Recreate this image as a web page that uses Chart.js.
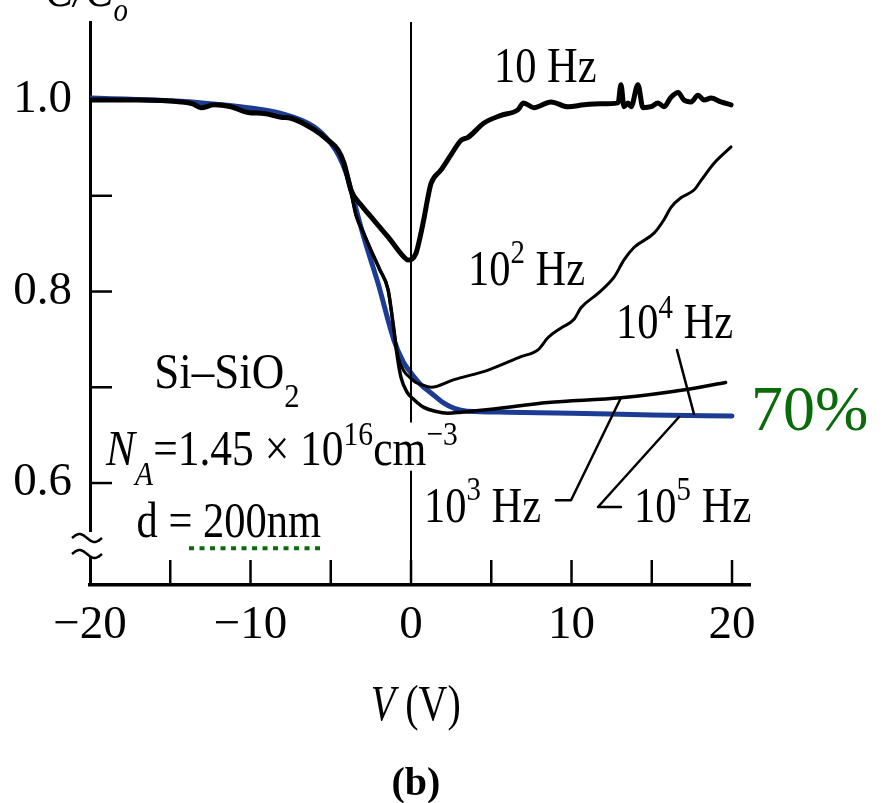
<!DOCTYPE html>
<html>
<head>
<meta charset="utf-8">
<script src="https://cdn.jsdelivr.net/npm/chart.js@4.4.1/dist/chart.umd.min.js"></script>
<style>
  html, body { margin: 0; padding: 0; background: #fff; }
</style>
</head>
<body>
<canvas id="cv" width="883" height="803"></canvas>
<script>
// C/Co versus gate voltage, Si-SiO2, measured at several frequencies
var xTicks = [-20, -15, -10, -5, 0, 5, 10, 15, 20];
var yTicks = [0.6, 0.7, 0.8, 0.9, 1.0];

// 10 Hz (thick black)
var v10 = [-20, -17, -14.33, -13.6, -13.08, -12.27, -11.21, -10.16, -9.16, -8.1, -7.48, -6.04, -5.17, -4.55, -4.17,
  -3.74, -3.1, -2.49, -1.43, -0.44, -0.19, 0.31, 0.62, 0.85, 1.06, 1.25, 1.87, 2.5, 3.12, 3.55, 4.55, 5.61, 6.67,
  7.0, 7.66, 8.72, 9.78, 10.78, 11.84, 12.9, 13.08, 13.27, 13.52, 13.71, 14.14, 14.45, 14.95, 15.39, 15.76, 16.2,
  16.64, 17.0, 17.45, 17.88, 18.26, 18.69, 19.31, 19.94];
var c10 = [1.000, 1.000, 0.998, 0.996, 0.992, 0.995, 0.993, 0.987, 0.986, 0.982, 0.981, 0.969, 0.958, 0.948, 0.934,
  0.906, 0.890, 0.878, 0.857, 0.836, 0.833, 0.840, 0.861, 0.880, 0.899, 0.913, 0.927, 0.943, 0.958, 0.961, 0.976, 0.984, 0.990,
  0.997, 0.992, 0.998, 0.993, 0.995, 0.996, 0.997, 1.016, 0.993, 0.997, 0.993, 1.016, 0.992, 0.993, 0.997, 0.993, 1.003,
  1.008, 1.000, 0.998, 1.005, 1.000, 1.002, 0.998, 0.995];

// 10^2 Hz
var v100 = [-4.2, -3.74, -3.43, -2.95, -2.49, -1.95, -1.43, -1.12, -0.81, -0.4, -0.12, 0.3, 0.62, 1.25, 2.68, 4.8,
  6.85, 7.91, 8.54, 9.35, 10.16, 10.59, 11.65, 12.65, 13.27, 13.89, 15.14, 15.76, 16.2, 16.82, 17.63, 18.07, 18.88, 19.94];
var c100 = [0.932, 0.904, 0.880, 0.861, 0.843, 0.823, 0.802, 0.767, 0.732, 0.716, 0.711, 0.705, 0.703, 0.700, 0.708, 0.718,
  0.732, 0.739, 0.752, 0.762, 0.771, 0.783, 0.798, 0.815, 0.833, 0.846, 0.861, 0.875, 0.888, 0.898, 0.906, 0.916, 0.934, 0.951];

// 10^3 Hz
var v1k = [-4.2, -3.74, -3.43, -2.95, -2.49, -1.95, -1.43, -1.12, -0.87, -0.62, -0.25, 0.19, 0.8, 1.5, 2.3, 3.12,
  5, 8.54, 13.08, 17.26, 19.6];
var c1k = [0.932, 0.904, 0.880, 0.861, 0.843, 0.823, 0.802, 0.767, 0.734, 0.710, 0.695, 0.687, 0.679, 0.675, 0.673, 0.674,
  0.677, 0.684, 0.689, 0.698, 0.705];

// 10^4 and 10^5 Hz (blue)
var vHigh = [-20, -16, -13, -10.16, -8.1, -6.04, -5, -4.5, -4, -3.74, -2.93, -2.06, -1.06, -0.5, 0, 0.6, 1.25, 2, 2.7,
  3.5, 6, 10, 15, 20];
var cHigh = [1.002, 1.000, 0.997, 0.992, 0.986, 0.972, 0.955, 0.942, 0.922, 0.906, 0.856, 0.809, 0.749, 0.727, 0.715, 0.703,
  0.694, 0.684, 0.678, 0.675, 0.674, 0.673, 0.671, 0.670];

// V = 0 line, broken behind the N_A label
var vZero = [0, 0, 0, 0, 0];
var cZero = [1.0815, 0.664, null, 0.612, 0.4935];

// label leaders
var lead1kV = [9.03, 9.97, 13.08];
var lead1kC = [0.582, 0.582, 0.689];
var lead100kV = [13.08, 11.65, 16.70];
var lead100kC = [0.575, 0.575, 0.669];
var lead10kV = [16.57, 17.63];
var lead10kC = [0.739, 0.672];

// green dotted underline below "200nm"
var dotV = [-13.83, -5.42];
var dotC = [0.532, 0.532];

function pts(xs, ys) {
  return xs.map(function (x, i) { return { x: x, y: ys[i] }; });
}

var serif = '"Liberation Serif", "Times New Roman", serif';

var notes = [
  { x: 5.17, y: 1.019, parts: [{ t: '10 Hz' }] },
  { x: 3.55, y: 0.807, parts: [{ t: '10' }, { t: '2', s: 34, dy: -22 }, { t: ' Hz' }] },
  { x: 12.77, y: 0.751, parts: [{ t: '10' }, { t: '4', s: 34, dy: -20 }, { t: ' Hz' }] },
  { x: 0.81, y: 0.559, parts: [{ t: '10' }, { t: '3', s: 34, dy: -22 }, { t: ' Hz' }] },
  { x: 13.9, y: 0.559, parts: [{ t: '10' }, { t: '5', s: 34, dy: -22 }, { t: ' Hz' }] },
  { x: -16.0, y: 0.699, sx: 0.9, parts: [{ t: 'Si\u2013SiO' }, { t: '2', s: 34, dy: 19 }] },
  { x: -19.0, y: 0.619, sx: 0.87, parts: [{ t: 'N', i: true }, { t: 'A', s: 34, dy: 20, i: true },
    { t: '=1.45 \u00d7 10' }, { t: '16', s: 34, dy: -20 }, { t: 'cm' }, { t: '\u22123', s: 34, dy: -20 }] },
  { x: -17.1, y: 0.544, parts: [{ t: 'd = 200nm' }] },
  { x: 21.18, y: 0.655, sx: 1, parts: [{ t: '70%', s: 64, c: '#0b6b0b' }] },
  { x: -22.8, y: 1.098, parts: [{ t: 'C/C', i: true }, { t: 'o', s: 34, dy: 15, i: true }] }
];

function drawRich(ctx, x, y, parts, sx) {
  ctx.save();
  ctx.translate(x, y);
  ctx.scale(sx, 1);
  ctx.textBaseline = 'alphabetic';
  ctx.textAlign = 'left';
  var cx = 0;
  parts.forEach(function (p) {
    ctx.font = (p.i ? 'italic ' : '') + (p.b ? 'bold ' : '') + (p.s || 50) + 'px ' + serif;
    ctx.fillStyle = p.c || '#000';
    ctx.fillText(p.t, cx, p.dy || 0);
    cx += ctx.measureText(p.t).width;
  });
  ctx.restore();
}

var decor = {
  id: 'decor',
  afterDraw: function (chart) {
    var ctx = chart.ctx, xs = chart.scales.x, ys = chart.scales.y, a = chart.chartArea;
    ctx.save();
    // inward tick marks
    ctx.strokeStyle = '#000';
    ctx.lineWidth = 2.5;
    xTicks.forEach(function (v) {
      if (v === xs.min) return;
      var px = xs.getPixelForValue(v);
      ctx.beginPath(); ctx.moveTo(px, a.bottom); ctx.lineTo(px, a.bottom - 25); ctx.stroke();
    });
    yTicks.forEach(function (v) {
      var py = ys.getPixelForValue(v);
      ctx.beginPath(); ctx.moveTo(a.left, py); ctx.lineTo(a.left + 22, py); ctx.stroke();
    });
    // axis break
    ctx.fillStyle = '#fff';
    ctx.fillRect(a.left - 4, a.bottom - 53, 8, 25);
    ctx.lineWidth = 2.5;
    [a.bottom - 47, a.bottom - 31].forEach(function (cy) {
      ctx.beginPath();
      for (var k = 0; k <= 30; k++) {
        var px = a.left - 18 + k;
        var py = cy - 4 * Math.sin((k / 30) * 2 * Math.PI);
        if (k === 0) ctx.moveTo(px, py); else ctx.lineTo(px, py);
      }
      ctx.stroke();
    });
    ctx.restore();

    notes.forEach(function (n) {
      drawRich(ctx, xs.getPixelForValue(n.x), ys.getPixelForValue(n.y), n.parts, n.sx || 0.85);
    });

    // axis title and panel letter
    var cxp = xs.getPixelForValue(0.3);
    ctx.save();
    ctx.font = 'italic 50px ' + serif;
    var w1 = ctx.measureText('V').width;
    ctx.font = '50px ' + serif;
    var w2 = ctx.measureText(' (V)').width;
    ctx.restore();
    drawRich(ctx, cxp - (w1 + w2) * 0.8 / 2, a.bottom + 135, [{ t: 'V', i: true }, { t: ' (V)' }], 0.8);
    ctx.save();
    ctx.font = 'bold 40px ' + serif;
    ctx.fillStyle = '#000';
    ctx.textAlign = 'center';
    ctx.fillText('(b)', cxp, a.bottom + 210);
    ctx.restore();
  }
};

function line(xs, ys, color, width, extra) {
  var d = {
    data: pts(xs, ys), borderColor: color, borderWidth: width, pointRadius: 0,
    fill: false, cubicInterpolationMode: 'monotone', borderCapStyle: 'round', borderJoinStyle: 'round'
  };
  for (var k in extra) d[k] = extra[k];
  return d;
}

function noPad(s) {
  s.paddingTop = 0; s.paddingBottom = 0; s.paddingLeft = 0; s.paddingRight = 0;
}

new Chart(document.getElementById('cv'), {
  type: 'line',
  data: {
    datasets: [
      line(dotV, dotC, '#0b6b0b', 4, { borderDash: [5, 5.5], borderCapStyle: 'butt' }),
      line(lead10kV, lead10kC, '#000', 2.5, { cubicInterpolationMode: 'default' }),
      line(lead1kV, lead1kC, '#000', 2.5, { cubicInterpolationMode: 'default', tension: 0 }),
      line(lead100kV, lead100kC, '#000', 2.5, { cubicInterpolationMode: 'default', tension: 0 }),
      line(v10, c10, '#000', 5),
      line(v1k, c1k, '#000', 3.5),
      line(v100, c100, '#000', 3),
      line(vZero, cZero, '#000', 2, { cubicInterpolationMode: 'default', borderCapStyle: 'butt' }),
      line(vHigh, cHigh, '#1c3c94', 5)
    ]
  },
  options: {
    responsive: false,
    animation: false,
    parsing: false,
    layout: { padding: { left: 0, top: 22, right: 133, bottom: 158 } },
    plugins: { legend: { display: false }, tooltip: { enabled: false } },
    scales: {
      x: {
        type: 'linear', min: -20, max: 21.12,
        afterBuildTicks: function (s) { s.ticks = xTicks.map(function (v) { return { value: v }; }); },
        afterFit: function (s) { s.height = 60; noPad(s); },
        grid: { display: false, drawTicks: false },
        border: { display: true, color: '#000', width: 3.5 },
        ticks: {
          autoSkip: false, maxRotation: 0, padding: 12, color: '#000',
          font: { family: serif, size: 47 },
          callback: function (v) {
            if (v % 10 !== 0) return '';
            return v < 0 ? '\u2212' + Math.abs(v) : String(v);
          }
        }
      },
      y: {
        type: 'linear', min: 0.4935, max: 1.0815,
        afterBuildTicks: function (s) { s.ticks = yTicks.map(function (v) { return { value: v }; }); },
        afterFit: function (s) { s.width = 90; noPad(s); },
        grid: { display: false, drawTicks: false },
        border: { display: true, color: '#000', width: 3 },
        ticks: {
          padding: 18, color: '#000',
          font: { family: serif, size: 47 },
          callback: function (v) {
            var r = Math.round(v * 10);
            return r % 2 === 0 ? (r / 10).toFixed(1) : '';
          }
        }
      }
    }
  },
  plugins: [decor]
});
</script>
</body>
</html>
